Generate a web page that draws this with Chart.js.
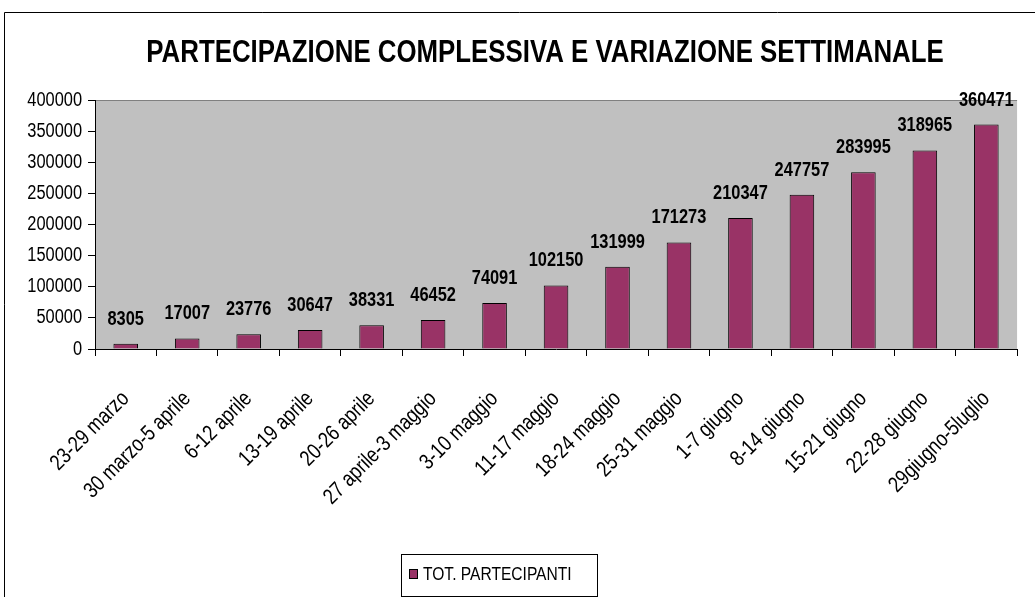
<!DOCTYPE html>
<html><head><meta charset="utf-8">
<script src="https://cdn.jsdelivr.net/npm/chart.js@4/dist/chart.umd.min.js"></script>
<style>html,body{margin:0;padding:0;background:#fff;overflow:hidden}#wrap{position:relative;width:1035px;height:597px}</style>
</head><body><div id="wrap"><canvas id="c" width="1035" height="597"></canvas></div>
<script>
const chartTitle = "PARTECIPAZIONE COMPLESSIVA E VARIAZIONE SETTIMANALE";
const seriesName = "TOT. PARTECIPANTI";
const categories = ["23-29 marzo","30 marzo-5 aprile","6-12 aprile","13-19 aprile","20-26 aprile","27 aprile-3 maggio","3-10 maggio","11-17 maggio","18-24 maggio","25-31 maggio","1-7 giugno","8-14 giugno","15-21 giugno","22-28 giugno","29giugno-5luglio"];
const totPartecipanti = [8305,17007,23776,30647,38331,46452,74091,102150,131999,171273,210347,247757,283995,318965,360471];
const yTicks = [0,50000,100000,150000,200000,250000,300000,350000,400000];

const FONT = "'Liberation Sans',Arial,sans-serif";
const BAR = '#993366';
const NARROW = 0.82; // emulate Arial Narrow by condensing text horizontally

const canvas = document.getElementById('c');
const c2d = canvas.getContext('2d');
const origFillText = c2d.fillText.bind(c2d);
c2d.fillText = function (t, x, y) {
  this.save();
  this.translate(x, y);
  this.scale(NARROW, 1);
  origFillText(t, 0, 0);
  this.restore();
};

const decor = {
  id: 'decor',
  beforeDraw(chart) {
    const {ctx, chartArea: a} = chart;
    ctx.save();
    ctx.fillStyle = '#fff';
    ctx.fillRect(0, 0, chart.width, chart.height);
    ctx.strokeStyle = '#000'; ctx.lineWidth = 1;
    ctx.beginPath();
    ctx.moveTo(4.5, chart.height); ctx.lineTo(4.5, 12.5); ctx.lineTo(chart.width, 12.5);
    ctx.stroke();
    ctx.fillStyle = '#C0C0C0';
    ctx.fillRect(a.left, a.top, a.right - a.left, a.bottom - a.top);
    ctx.strokeStyle = '#808080';
    ctx.beginPath(); ctx.moveTo(a.left, a.top + 0.5); ctx.lineTo(a.right, a.top + 0.5); ctx.stroke();
    ctx.fillStyle = '#000';
    ctx.font = "bold 31.5px " + FONT;
    ctx.textAlign = 'center'; ctx.textBaseline = 'middle';
    ctx.fillText(chartTitle, 545, 53);
    ctx.restore();
  },
  afterDatasetsDraw(chart) {
    const {ctx} = chart;
    const meta = chart.getDatasetMeta(0);
    ctx.save();
    ctx.fillStyle = '#000';
    ctx.font = "bold 20px " + FONT;
    ctx.textAlign = 'center'; ctx.textBaseline = 'alphabetic';
    meta.data.forEach((bar, i) => {
      ctx.fillText(String(chart.data.datasets[0].data[i]), bar.x, bar.y - 19);
    });
    ctx.restore();
  },
  afterDraw(chart) {
    const {ctx} = chart;
    ctx.save();
    const bx = 401, by = 554, bw = 196, bh = 42;
    ctx.fillStyle = '#fff';
    ctx.fillRect(bx, by, bw, bh);
    ctx.strokeStyle = '#000'; ctx.lineWidth = 1;
    ctx.strokeRect(bx + 0.5, by + 0.5, bw, bh);
    ctx.fillStyle = BAR;
    ctx.fillRect(409, 569, 9, 10);
    ctx.strokeRect(409.5, 569.5, 8, 9);
    ctx.fillStyle = '#000';
    ctx.font = "19px " + FONT;
    ctx.textAlign = 'left'; ctx.textBaseline = 'middle';
    ctx.fillText(seriesName, 423, 575);
    ctx.restore();
  }
};

new Chart(canvas, {
  type: 'bar',
  data: {
    labels: categories,
    datasets: [{
      label: seriesName,
      data: totPartecipanti,
      backgroundColor: BAR,
      borderColor: '#000',
      borderWidth: 1,
      categoryPercentage: 1,
      barPercentage: 0.4
    }]
  },
  options: {
    responsive: false,
    devicePixelRatio: 1,
    animation: false,
    layout: {padding: {top: 100, left: 0, right: 0, bottom: 0}},
    plugins: {legend: {display: false}, title: {display: false}, tooltip: {enabled: false}},
    scales: {
      x: {
        grid: {display: true, drawOnChartArea: false, drawTicks: true, tickLength: 7, color: '#000', offset: true},
        border: {display: true, color: '#000', width: 1},
        ticks: {color: '#000', font: {family: FONT, size: 22}, minRotation: 45, maxRotation: 45, autoSkip: false, padding: 30},
        afterFit(s) { s.height = 248; }
      },
      y: {
        min: 0, max: 400000,
        grid: {display: true, drawOnChartArea: false, drawTicks: true, tickLength: 7, color: '#000'},
        border: {display: true, color: '#000', width: 1},
        ticks: {color: '#000', font: {family: FONT, size: 20}, padding: 6, callback: v => String(v)},
        afterBuildTicks(s) { s.ticks = yTicks.map(v => ({value: v})); },
        afterFit(s) { s.width = 95; }
      }
    }
  },
  plugins: [decor]
});
</script></body></html>
